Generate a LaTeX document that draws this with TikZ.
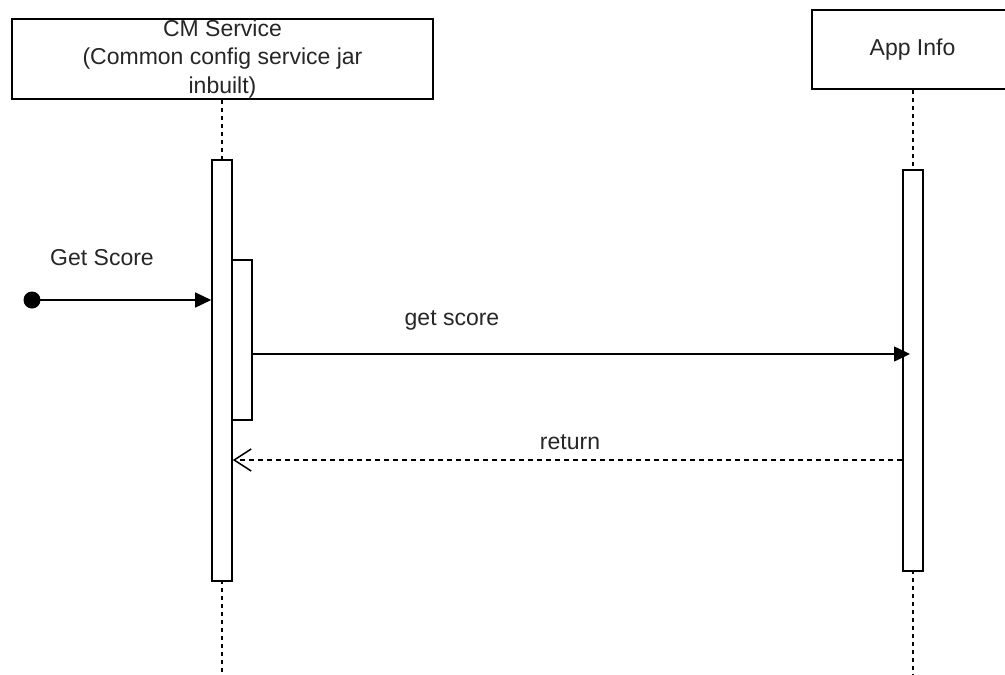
\documentclass[tikz,border=0pt]{standalone}
\usepackage{fontspec}
\setmainfont{Liberation Sans}
\usetikzlibrary{arrows.meta}
\begin{document}
\begin{tikzpicture}[x=1pt,y=-1pt,
  every node/.style={font=\fontsize{23}{28.5}\selectfont, text=black!85},
  head/.style={draw, line width=1.6pt, fill=white, inner sep=0pt, align=center},
  actbox/.style={draw, line width=1.6pt, fill=white, minimum width=20pt, inner sep=0pt},
  lifeline/.style={line width=1.5pt, dash pattern=on 4pt off 4pt},
  call/.style={line width=1.5pt, -{Triangle[length=16pt,width=15pt]}},
  reply/.style={line width=1.5pt, dash pattern=on 5pt off 4pt, -{Straight Barb[length=17pt,width=22pt,line width=1.5pt]}},
  lbl/.style={inner sep=0pt}
]
\useasboundingbox[fill=white] (0,0) rectangle (1005,675);
\clip (0,0) rectangle (1005,675);
% lifeline heads
\node[head, minimum width=421pt, minimum height=80pt] (cm) at (222.5,59)
  {CM Service\\(Common config service jar\\inbuilt)};
\node[head, minimum width=202pt, minimum height=79pt] (app) at (913,49.5) {};
\node[lbl] (applbl) at (912.5,50) {App Info};
% lifeline ends
\coordinate (cmEnd) at (222,675);
\coordinate (appEnd) at (913,675);
\draw[lifeline] (cm.south -| cmEnd) -- (cmEnd);
\draw[lifeline] (app.south) -- (appEnd);
% activations
\node[actbox, minimum height=421pt] (actA) at (222,370.5) {};
\node[actbox, minimum height=160pt] (actA2) at (242,340) {};
\node[actbox, minimum height=401pt] (actB) at (913,370.5) {};
% start dot
\fill (32,300) circle (8.5pt);
\coordinate (start) at (32,300);
\coordinate (y1) at (0,354);
\coordinate (y2) at (0,460);
\coordinate (tipB) at (910,354);
% messages
\draw[call] (start) -- (actA.west |- start);
\node[lbl] (lgs) at (102,258) {Get Score};
\draw[call] (actA2.east |- y1) -- (tipB);
\node[lbl] (lgs2) at (452,320) {get score};
\draw[reply] (actB.west |- y2) -- (actA.east |- y2);
\node[lbl] (lret) at (570,442) {return};
\end{tikzpicture}
\end{document}
